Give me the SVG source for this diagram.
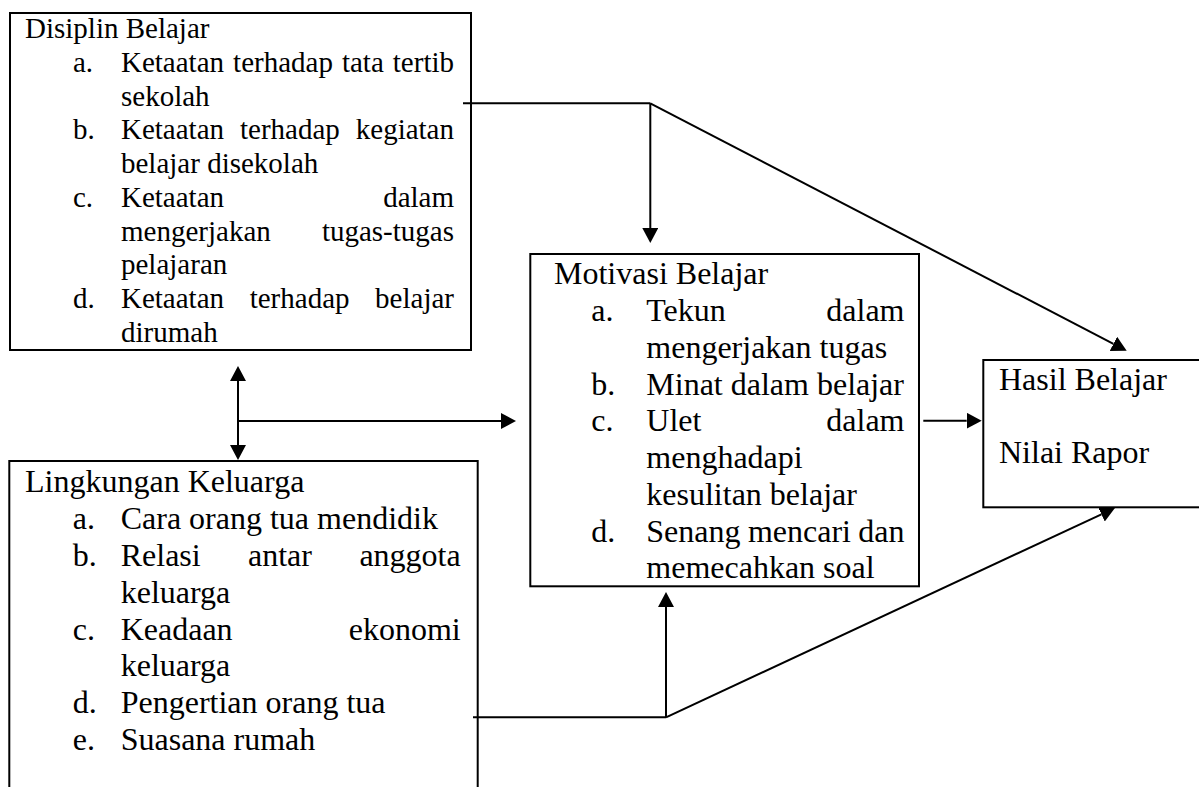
<svg xmlns="http://www.w3.org/2000/svg" width="1199" height="787" viewBox="0 0 1199 787">
<style>
.box{fill:none;stroke:#000;stroke-width:2}
.ln{fill:none;stroke:#000;stroke-width:2}
text{font-family:"Liberation Serif","Times New Roman",serif;fill:#000}
.s1{font-size:29px}
.s2{font-size:32px}
.e{text-anchor:end}
</style>
<defs>
<marker id="ah" markerUnits="userSpaceOnUse" markerWidth="17" markerHeight="17" refX="0" refY="8" orient="auto-start-reverse">
<path d="M0,0 L15,8 L0,16 z" fill="#000"/>
</marker>
</defs>
<rect width="1199" height="787" fill="#fff"/>

<g id="disiplin-belajar" class="s1">
<rect class="box" x="10" y="13" width="461" height="337"/>
<text x="25" y="38.3">Disiplin Belajar</text>
<text x="73" y="72">a.</text>
<text x="121" y="72">Ketaatan</text><text x="233.1" y="72">terhadap</text><text x="341.9" y="72">tata</text><text class="e" x="454" y="72">tertib</text>
<text x="121" y="105.7">sekolah</text>
<text x="73" y="139.4">b.</text>
<text x="121" y="139.4">Ketaatan</text><text x="240" y="139.4">terhadap</text><text class="e" x="454" y="139.4">kegiatan</text>
<text x="121" y="173.1">belajar disekolah</text>
<text x="73" y="206.8">c.</text>
<text x="121" y="206.8">Ketaatan</text><text class="e" x="454" y="206.8">dalam</text>
<text x="121" y="240.5">mengerjakan</text><text class="e" x="454" y="240.5">tugas-tugas</text>
<text x="121" y="274.2">pelajaran</text>
<text x="73" y="307.9">d.</text>
<text x="121" y="307.9">Ketaatan</text><text x="249.7" y="307.9">terhadap</text><text class="e" x="454" y="307.9">belajar</text>
<text x="121" y="341.6">dirumah</text>
</g>

<g id="motivasi-belajar" class="s2">
<rect class="box" x="530.3" y="254" width="388.7" height="332.3"/>
<text x="554" y="284.3">Motivasi Belajar</text>
<text x="591.3" y="321">a.</text>
<text x="646.3" y="321">Tekun</text><text class="e" x="904.5" y="321">dalam</text>
<text x="646.3" y="357.8">mengerjakan tugas</text>
<text x="591.3" y="394.5">b.</text>
<text x="646.3" y="394.5">Minat dalam belajar</text>
<text x="591.3" y="431.3">c.</text>
<text x="646.3" y="431.3">Ulet</text><text class="e" x="904.5" y="431.3">dalam</text>
<text x="646.3" y="468">menghadapi</text>
<text x="646.3" y="504.8">kesulitan belajar</text>
<text x="591.3" y="541.5">d.</text>
<text x="646.3" y="541.5">Senang</text><text x="747.9" y="541.5">mencari</text><text class="e" x="904.5" y="541.5">dan</text>
<text x="646.3" y="578.3">memecahkan soal</text>
</g>

<g id="lingkungan-keluarga" class="s2">
<rect class="box" x="9.3" y="461" width="468.4" height="400"/>
<text x="25" y="492.3">Lingkungan Keluarga</text>
<text x="72.7" y="529.1">a.</text>
<text x="120.7" y="529.1">Cara orang tua mendidik</text>
<text x="72.7" y="565.9">b.</text>
<text x="120.7" y="565.9">Relasi</text><text x="248" y="565.9">antar</text><text class="e" x="460.7" y="565.9">anggota</text>
<text x="120.7" y="602.7">keluarga</text>
<text x="72.7" y="639.5">c.</text>
<text x="120.7" y="639.5">Keadaan</text><text class="e" x="460.7" y="639.5">ekonomi</text>
<text x="120.7" y="676.3">keluarga</text>
<text x="72.7" y="713.1">d.</text>
<text x="120.7" y="713.1">Pengertian orang tua</text>
<text x="72.7" y="749.9">e.</text>
<text x="120.7" y="749.9">Suasana rumah</text>
</g>

<g id="hasil-belajar" class="s2">
<rect class="box" x="983.3" y="360" width="250" height="147.3"/>
<text x="999" y="390">Hasil Belajar</text>
<text x="999" y="462.7">Nilai Rapor</text>
</g>

<g id="connectors">
<path class="ln" d="M463,103.3 H650.3"/>
<path class="ln" d="M650.3,103.3 V228" marker-end="url(#ah)"/>
<path class="ln" d="M650.3,103.3 L1113.4,343.8" marker-end="url(#ah)"/>
<path class="ln" d="M238,381 V445" marker-start="url(#ah)" marker-end="url(#ah)"/>
<path class="ln" d="M238,421 H501" marker-end="url(#ah)"/>
<path class="ln" d="M923.3,420.7 H966.7" marker-end="url(#ah)"/>
<path class="ln" d="M473,717.3 H666"/>
<path class="ln" d="M666,717.3 V607" marker-end="url(#ah)"/>
<path class="ln" d="M666,717.3 L1101.4,514.3" marker-end="url(#ah)"/>
</g>
</svg>
